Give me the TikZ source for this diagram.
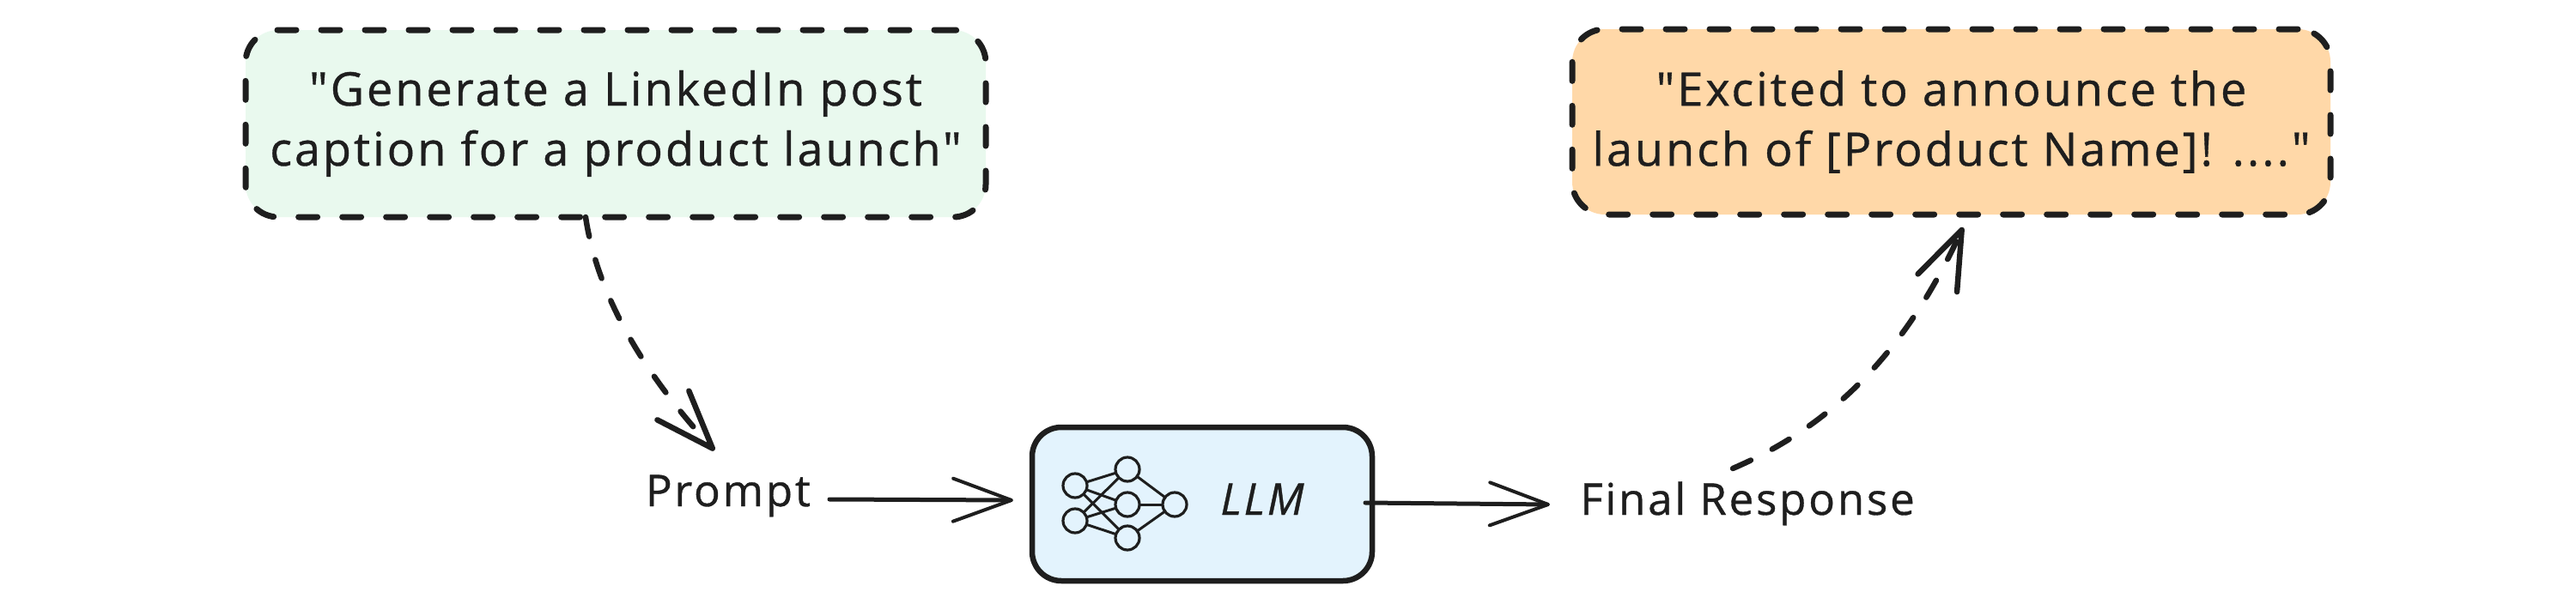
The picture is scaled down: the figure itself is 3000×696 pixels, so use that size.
\documentclass[tikz,border=0pt]{standalone}
\usepackage{fontspec}
\setmainfont{Open Sans}
\newfontfamily\hand[LetterSpace=5.5,FakeBold=0.7]{Open Sans}
\usetikzlibrary{arrows.meta}
\definecolor{ink}{HTML}{1E1E1E}
\definecolor{greenfill}{HTML}{E9F9EE}
\definecolor{orangefill}{HTML}{FFD8A8}
\definecolor{bluefill}{HTML}{E3F3FD}
\tikzset{
  x=1pt,y=-1pt,
  note/.style={draw=ink,line width=7pt,line cap=round,dash pattern=on 22pt off 29pt,rounded corners=38pt,inner sep=0pt,outer sep=0pt,align=center,text=ink,font=\hand\fontsize{54}{70}\selectfont},
  llmbox/.style={draw=ink,fill=bluefill,line width=6.5pt,rounded corners=34pt,inner sep=0pt,outer sep=0pt,minimum width=396pt,minimum height=179pt},
  label/.style={anchor=base,inner sep=0pt,outer sep=0pt,text=ink,font=\hand\fontsize{51}{60}\selectfont},
  flow/.style={draw=ink,line width=5pt,line cap=round,-{Straight Barb[length=68pt,width=50pt,line width=4pt,round]}},
  dashflow/.style={draw=ink,line width=6.5pt,line cap=round,dash pattern=on 23pt off 28pt,-{Straight Barb[length=68pt,width=50pt,line width=6.5pt,round]}},
  neuron/.style={circle,draw=ink,line width=3.2pt,minimum size=28pt,inner sep=0pt,outer sep=0pt},
  synapse/.style={draw=ink,line width=3pt},
}
\begin{document}
\begin{tikzpicture}
\useasboundingbox[fill=white] (0,0) rectangle (3000,696);
\node[note,fill=greenfill,minimum width=862pt,minimum height=218pt] (green) at (717,144) {"Generate a LinkedIn post\\caption for a product launch"};
\node[note,fill=orangefill,minimum width=883pt,minimum height=216pt] (orange) at (2272.5,142) {"Excited to announce the\\launch of [Product Name]! ...."};
\node[llmbox] (llm) at (1400,587.5) {};
\node[label] (prompt) at (848,590) {Prompt};
\node[label] (final) at (2035,600) {Final Response};
\node[label,font=\hand\itshape\fontsize{51}{60}\selectfont] (llmtext) at (1470,600) {LLM};
\node[neuron] (a1) at (1252,566) {};
\node[neuron] (a2) at (1252,607) {};
\node[neuron] (b1) at (1313,547) {};
\node[neuron] (b2) at (1313,588) {};
\node[neuron] (b3) at (1313,627) {};
\node[neuron] (c1) at (1368,588) {};
\foreach \s in {a1,a2}\foreach \t in {b1,b2,b3}\draw[synapse] (\s) -- (\t);
\foreach \s in {b1,b2,b3}\draw[synapse] (\s) -- (c1);
\draw[flow] ([shift={(118pt,8pt)}]prompt.base) -- ([shift={(-22pt,4.5pt)}]llm.west);
\draw[flow] ([shift={(-8pt,1.5pt)}]llm.east) -- ([shift={(-230pt,12pt)}]final.base);
\draw[dashflow] ([xshift=-35pt]green.south) .. controls (695,340) and (745,430) .. ([shift={(-16pt,65pt)}]prompt.base);
\draw[dashflow] ([shift={(-17pt,54pt)}]final.base) .. controls (2125,500) and (2215,420) .. ([shift={(13.5pt,-15pt)}]orange.south);
\end{tikzpicture}
\end{document}
